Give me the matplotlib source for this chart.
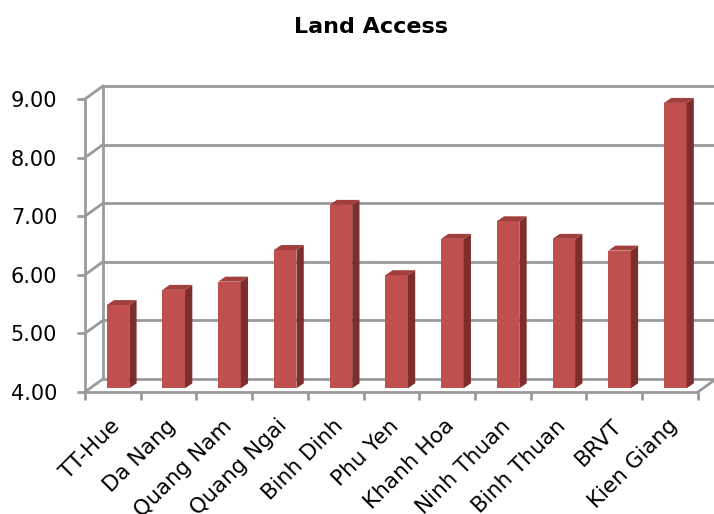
import numpy as np
import matplotlib
matplotlib.use("Agg")
import matplotlib.pyplot as plt
from matplotlib.patches import Polygon
from matplotlib.transforms import ScaledTranslation

# Data
provinces = ["TT-Hue", "Da Nang", "Quang Nam", "Quang Ngai", "Binh Dinh",
             "Phu Yen", "Khanh Hoa", "Ninh Thuan", "Binh Thuan", "BRVT",
             "Kien Giang"]
scores = [5.42, 5.68, 5.82, 6.36, 7.13, 5.93, 6.55, 6.85, 6.55, 6.35, 8.87]
y_ticks = [4, 5, 6, 7, 8, 9]

front_c = "#C0504D"
side_c = "#7D2E2C"
top_c = "#A13F3C"
grid_c = "#9A9A9A"

fig = plt.figure(figsize=(7.14, 5.14), dpi=100)
ax = fig.add_axes([0.119, 0.2374, 0.8585, 0.570])
n = len(provinces)
ax.set_xlim(0, n)
ax.set_ylim(4, 9)

# fake 3D: back wall offset (data units)
wx, wy = 0.323, 0.222
for y in y_ticks:
    ax.plot([wx, n + wx], [y + wy, y + wy], color=grid_c, lw=2,
            clip_on=False, zorder=1, solid_capstyle="butt")
    ax.plot([0, wx], [y, y + wy], color=grid_c, lw=2, clip_on=False, zorder=1)
ax.plot([wx, wx], [4 + wy, 9 + wy], color=grid_c, lw=2, clip_on=False, zorder=1)
ax.plot([n, n + wx], [4, 4 + wy], color=grid_c, lw=2, clip_on=False, zorder=1)

# bars sit a little behind the front plane
bx, by = 0.093, 0.063
dx, dy = 0.131, 0.085
w = 0.405
x = np.arange(n) + 0.5 + bx
vals = np.array(scores)
ax.bar(x, vals - 4, bottom=4 + by, width=w, color=front_c, zorder=3)
for xi, v in zip(x, vals):
    l, r = xi - w / 2, xi + w / 2
    side = Polygon([(r, 4 + by), (r + dx, 4 + by + dy), (r + dx, v + by + dy), (r, v + by)],
                   closed=True, facecolor=side_c, edgecolor="none", zorder=3, clip_on=False)
    top = Polygon([(l, v + by), (l + dx, v + by + dy), (r + dx, v + by + dy), (r, v + by)],
                  closed=True, facecolor=top_c, edgecolor="none", zorder=3, clip_on=False)
    ax.add_patch(side)
    ax.add_patch(top)

# axes styling
for s in ["top", "right"]:
    ax.spines[s].set_visible(False)
for s in ["left", "bottom"]:
    ax.spines[s].set_color(grid_c)
    ax.spines[s].set_linewidth(2)

ax.set_yticks(y_ticks)
ax.set_yticklabels([f"{t:.2f}" for t in y_ticks])
ax.tick_params(axis="y", length=6, width=2, color=grid_c, labelsize=15, pad=14)

ax.set_xticks(np.arange(n + 1))
ax.set_xticklabels([])
ax.tick_params(axis="x", which="major", length=6, width=2, color=grid_c)
ax.set_xticks(np.arange(n) + 0.5, minor=True)
ax.set_xticklabels(provinces, minor=True, rotation=45, ha="right",
                   rotation_mode="anchor", fontsize=15.5)
ax.tick_params(axis="x", which="minor", length=0, pad=17)
shift = ScaledTranslation(-0.03, 0, fig.dpi_scale_trans)
for lab in ax.get_xticklabels(minor=True):
    lab.set_transform(lab.get_transform() + shift)

fig.text(371 / 714, 1 - 27 / 514, "Land Access", ha="center", va="center",
         fontsize=16, fontweight="bold")

fig.savefig("out.png", dpi=100)
